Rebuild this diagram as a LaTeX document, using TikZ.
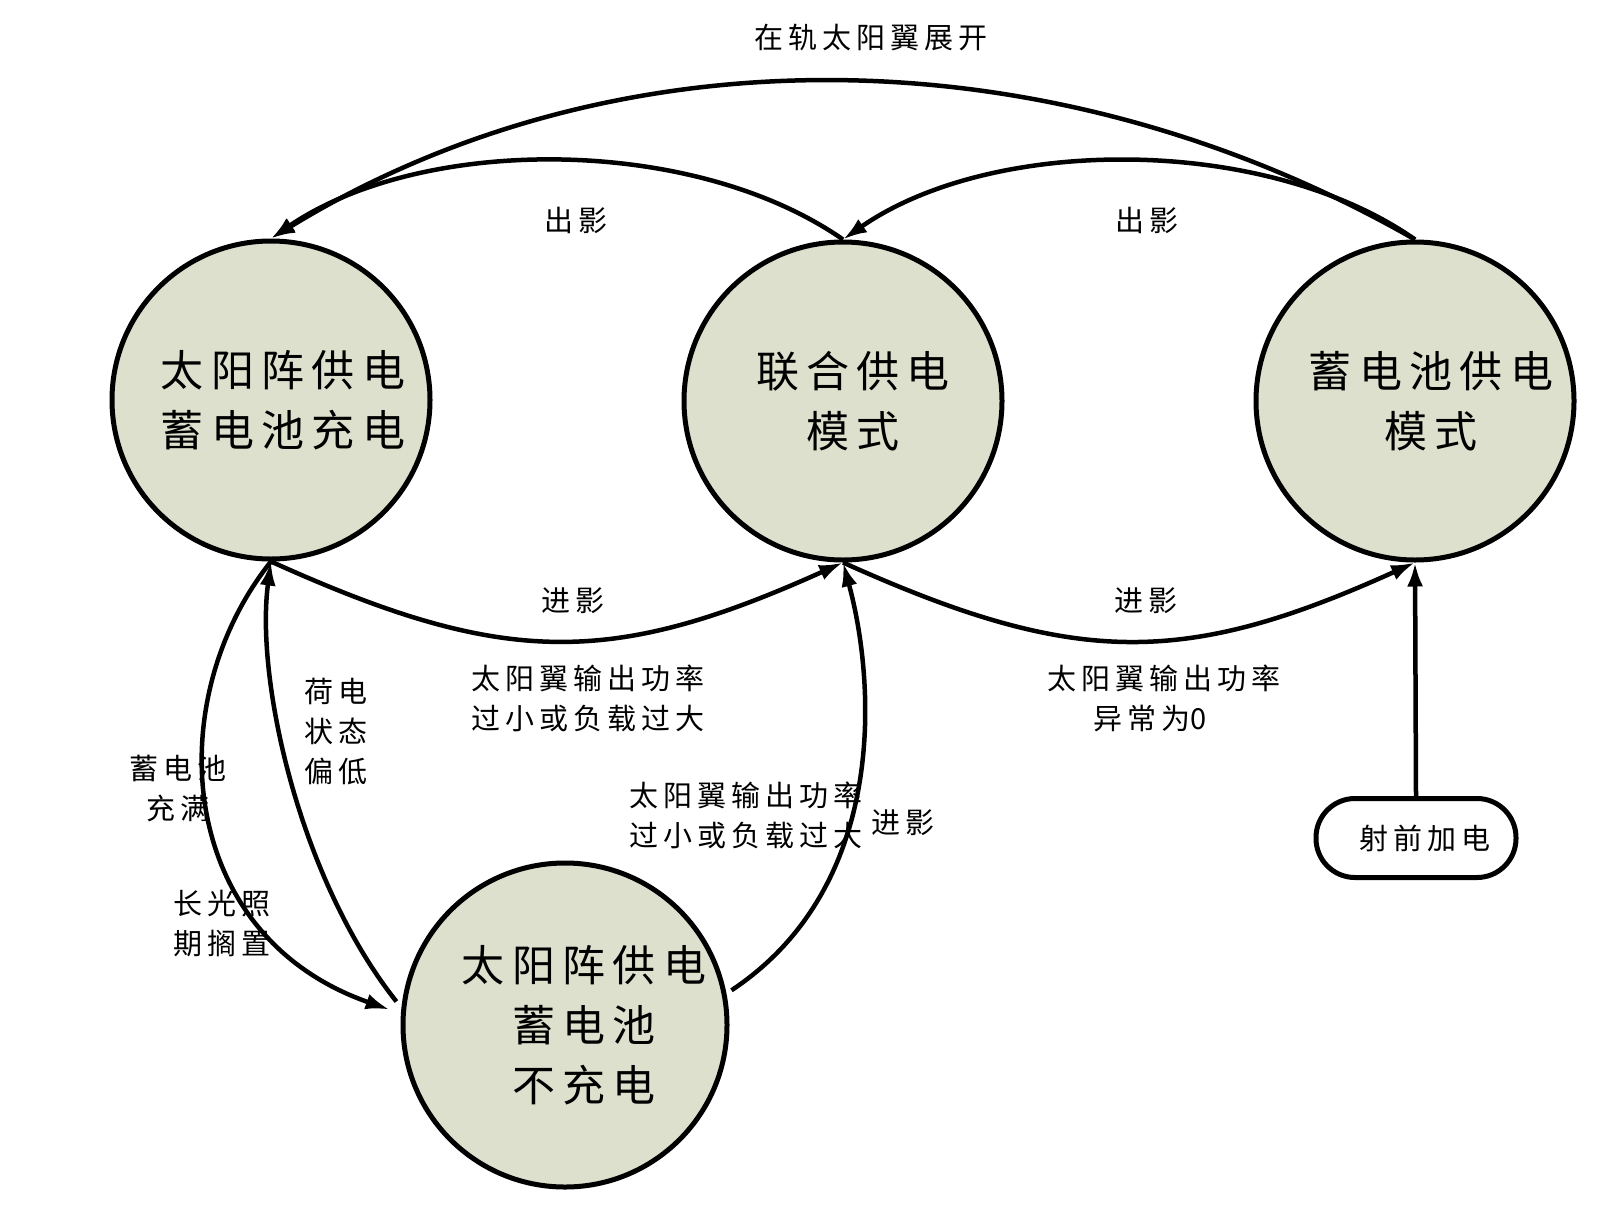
\documentclass[tikz,border=0pt]{standalone}
\usepackage{fontspec}
\setmainfont{Noto Sans CJK SC}
\usetikzlibrary{arrows.meta}
\newcount\cjkcnt
\cjkcnt="4E00
\loop
  \XeTeXcharclass\cjkcnt=7
  \advance\cjkcnt by 1
\ifnum\cjkcnt<"A000 \repeat
\XeTeXinterchartokenstate=1
\XeTeXinterchartoks 7 7 = {\hskip0.17em\relax}
\definecolor{statefill}{RGB}{221,224,204}
\begin{document}
\begin{tikzpicture}[x=1pt,y=-1pt,
  state/.style={circle, draw, line width=5pt, fill=statefill, minimum size=318pt, inner sep=0pt,
    font=\fontsize{43}{60}\selectfont, align=center},
  lbl/.style={font=\fontsize{29}{40}\selectfont, align=center, inner sep=0pt},
  arr/.style={line width=4.5pt, -{Latex[length=24pt,width=16pt]}},
  pill/.style={draw, line width=5pt, rounded corners=39pt, minimum width=200pt, minimum height=79pt,
    inner sep=0pt, font=\fontsize{29}{40}\selectfont}]
\useasboundingbox (0,0) rectangle (1600,1210);

% states
\node[state] (A) at (271,400) {\hspace*{24pt}太阳阵供电\\\hspace*{24pt}蓄电池充电};
\node[state] (B) at (843,401) {\hspace*{20pt}联合供电\\\hspace*{20pt}模式};
\node[state] (C) at (1415,401) {\hspace*{32pt}蓄电池供电\\\hspace*{32pt}模式};
\node[state] (D) at (565,1025) {\hspace*{38pt}太阳阵供电\\\hspace*{38pt}蓄电池\\\hspace*{38pt}不充电};
\node[pill] (P) at (1416,838) {\hspace*{18pt}射前加电};

% connectors
\draw[arr] (C.north) .. controls (1047,29) and (613,29) .. (A.north);
\draw[arr] (B.north) .. controls (693,135) and (422,135) .. (A.north);
\draw[arr] (C.north) .. controls (1266,135) and (993,135) .. (B.north);
\draw[arr] (A.south) .. controls (504,667) and (611,667) .. (B.south);
\draw[arr] (B.south) .. controls (1075,667) and (1184,667) .. (C.south);
\draw[arr, shorten >=12pt] (A.south) .. controls (160,700) and (175,935) .. (D.176);
\draw[arr, shorten <=8pt] (D.174) .. controls (300,880) and (255,680) .. (A.south);
\draw[arr, shorten <=6pt] (D.11) .. controls (890,885) and (875,680) .. (B.south);
\draw[arr] (P.north) -- (C.south);

% labels
\node[lbl] (t1) at (871,37) {在轨太阳翼展开};
\node[lbl] (t2) at (576,220) {出影};
\node[lbl] (t3) at (1147,220) {出影};
\node[lbl] (t4) at (573,601) {进影};
\node[lbl] (t5) at (1146,601) {进影};
\node[lbl] (t6) at (588,698) {太阳翼输出功率\\过小或负载过大};
\node[lbl] (t7) at (1164,698) {太阳翼输出功率\\异常为0\kern28pt};
\node[lbl] (t8) at (336,732) {荷电\\状态\\偏低};
\node[lbl] (t9) at (178,788) {蓄电池\\充满};
\node[lbl] (t10) at (222,924) {长光照\\期搁置};
\node[lbl] (t11) at (746,815) {太阳翼输出功率\\过小或负载过大};
\node[lbl] (t12) at (903,823) {进影};
\end{tikzpicture}
\end{document}
